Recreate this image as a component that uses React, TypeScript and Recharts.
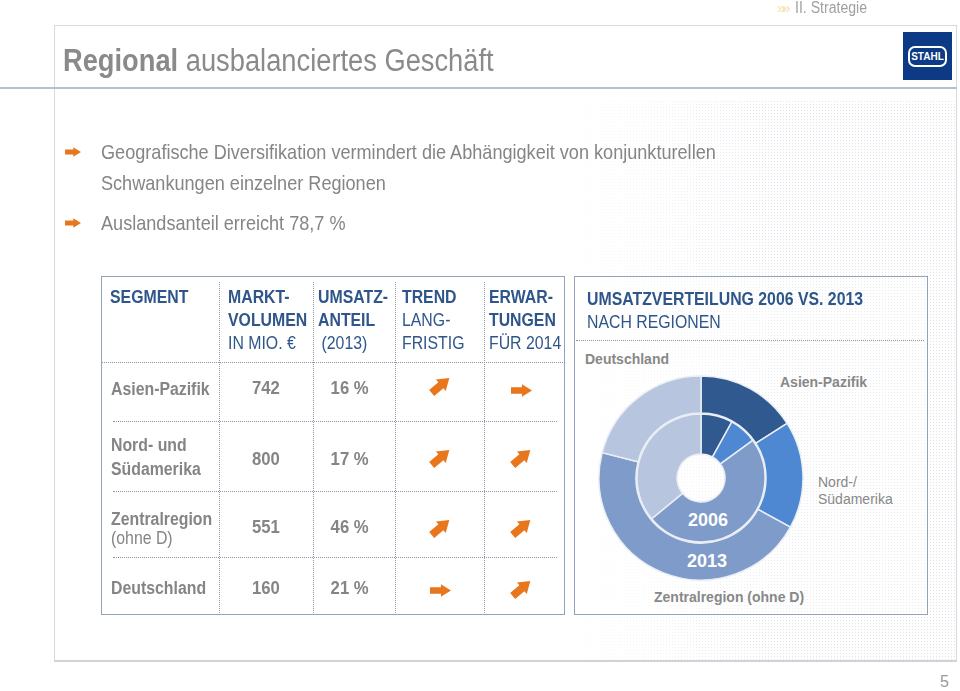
import React from "react";
import { PieChart, Pie, Cell } from "recharts";

// ─── Data ────────────────────────────────────────────────────────────────────

const regions = ["Asien-Pazifik", "Nord-/Südamerika", "Zentralregion (ohne D)", "Deutschland"];
const share2006 = [8, 7, 49, 36];
const share2013 = [16, 17, 46, 21];
const regionColors = ["#305a8f", "#4e88d2", "#7e9bca", "#b7c5df"];

const segmentNames = ["Asien-Pazifik", "Nord- und|Südamerika", "Zentralregion|(ohne D)", "Deutschland"];
const marketVolume = ["742", "800", "551", "160"];
const salesShare = ["16 %", "17 %", "46 %", "21 %"];
const trendLong = ["up", "up", "up", "right"];
const outlook2014 = ["right", "up", "up", "up"];

const bullets = [
  "Geografische Diversifikation vermindert die Abhängigkeit von konjunkturellen|Schwankungen einzelner Regionen",
  "Auslandsanteil erreicht 78,7 %",
];

// ─── Styling ─────────────────────────────────────────────────────────────────

const FONT = "'Liberation Sans', Arial, sans-serif";
const GRAY = "#858585";
const BLUE = "#2f568a";
const ORANGE = "#e8761c";

// condensed look: no narrow font installed, so squeeze horizontally
const narrow = (s: number): React.CSSProperties => ({
  transform: `scaleX(${s})`,
  transformOrigin: "left top",
});

function Arrow({ dir, x, y, w }: { dir: string; x: number; y: number; w?: number }) {
  const up = dir === "up";
  const len = w ?? (up ? 23 : 21);
  const rot = up ? -40 : 0;
  const box = len + 6;
  const sh = len * (up ? 0.17 : 0.15); // half shaft
  const hh = len * (up ? 0.33 : 0.3); // half head
  const neck = len * 0.02;
  return (
    <svg
      width={box}
      height={box}
      style={{ position: "absolute", left: x - box / 2, top: y - box / 2, overflow: "visible" }}
    >
      <g transform={`translate(${box / 2},${box / 2}) rotate(${rot})`}>
        <path
          d={`M${-len / 2},${-sh} L${neck},${-sh} L${neck},${-hh} L${len / 2},0 L${neck},${hh} L${neck},${sh} L${-len / 2},${sh} Z`}
          fill={ORANGE}
        />
      </g>
    </svg>
  );
}

const abs = (l: number, t: number, extra: React.CSSProperties = {}): React.CSSProperties => ({
  position: "absolute",
  left: l,
  top: t,
  whiteSpace: "nowrap",
  ...extra,
});

// table geometry
const colX = [101, 219, 313, 395, 484, 565];
const rowY = [276, 362, 421, 491, 557, 615];
const labelTop = [377, 433, 510, 576];
const valueMid = [389, 460, 528, 589];
const trendMid = [385, 457, 527, 590];
const outlookMid = [390, 457, 527, 588];

const head: React.CSSProperties = {
  fontSize: 18,
  color: BLUE,
  fontWeight: 700,
  lineHeight: "23px",
  ...narrow(0.88),
};

export default function App() {
  const pieData = regions.map((r, i) => ({ name: r, v2006: share2006[i], v2013: share2013[i] }));

  return (
    <div
      style={{
        position: "absolute",
        left: 0,
        top: 0,
        width: 960,
        height: 691,
        background: "#ffffff",
        fontFamily: FONT,
        overflow: "hidden",
      }}
    >
      {/* slide frame */}
      <div
        style={{
          position: "absolute",
          left: 54,
          top: 25,
          width: 903,
          height: 637,
          border: "1px solid #d6d9dd",
          borderBottom: "2px solid #cfd3d8",
          boxSizing: "border-box",
        }}
      />
      {/* dotted texture on the right */}
      <div
        style={{
          position: "absolute",
          left: 560,
          top: 100,
          width: 396,
          height: 560,
          backgroundImage: "radial-gradient(#dfe3e9 0.8px, transparent 0.9px)",
          backgroundSize: "3px 3px",
          WebkitMaskImage: "linear-gradient(to left, #000 45%, transparent 100%)",
          maskImage: "linear-gradient(to left, #000 45%, transparent 100%)",
        }}
      />
      <div style={{ position: "absolute", left: 0, top: 87, width: 957, height: 2, background: "#b3c0cf" }} />

      {/* header */}
      <div style={abs(777, -1, { fontSize: 15, color: "#f1e2a8", letterSpacing: -3 })}>»»</div>
      <div style={abs(795, -1, { fontSize: 16, color: "#a0a0a0", ...narrow(0.88) })}>II. Strategie</div>
      <div style={abs(63, 43, { fontSize: 31, color: "#8a8a8a", ...narrow(0.88) })}>
        <b>Regional</b> ausbalanciertes Geschäft
      </div>
      <div
        style={{
          position: "absolute",
          left: 903,
          top: 32,
          width: 49,
          height: 48,
          background: "#0c3a84",
        }}
      >
        <div
          style={{
            position: "absolute",
            left: 5,
            top: 14,
            width: 35,
            height: 17,
            border: "2px solid #fff",
            borderRadius: 7,
            color: "#fff",
            fontWeight: 700,
            fontSize: 10,
            textAlign: "center",
            lineHeight: "17px",
          }}
        >
          STAHL
        </div>
      </div>

      {/* bullets */}
      {bullets.map((b, i) => {
        const top = i === 0 ? 140 : 211;
        return (
          <React.Fragment key={i}>
            <Arrow dir="right" x={73} y={top + 12} w={16} />
            {b.split("|").map((line, j) => (
              <div key={j} style={abs(101, top + j * 31, { fontSize: 21, color: GRAY, ...narrow(0.862) })}>
                {line}
              </div>
            ))}
          </React.Fragment>
        );
      })}

      {/* table */}
      <div
        style={{
          position: "absolute",
          left: colX[0],
          top: rowY[0],
          width: colX[5] - colX[0],
          height: rowY[5] - rowY[0],
          border: "1.5px solid #93a4b8",
          boxSizing: "border-box",
        }}
      />
      {colX.slice(1, 5).map((x) => (
        <div
          key={x}
          style={{
            position: "absolute",
            left: x,
            top: rowY[0] + 6,
            height: rowY[5] - rowY[0] - 8,
            borderLeft: "1px dotted #8c96a3",
          }}
        />
      ))}
      {rowY.slice(1, 5).map((y, i) => (
        <div
          key={y}
          style={{
            position: "absolute",
            left: i === 0 ? colX[0] + 1 : colX[0] + 12,
            top: y,
            width: colX[5] - colX[0] - (i === 0 ? 3 : 20),
            borderTop: "1px dotted #8c96a3",
          }}
        />
      ))}

      {/* table header */}
      <div style={abs(110, 286, head)}>SEGMENT</div>
      <div style={abs(228, 286, head)}>
        MARKT-
        <br />
        VOLUMEN
        <br />
        <span style={{ fontWeight: 400 }}>IN MIO. €</span>
      </div>
      <div style={abs(318, 286, head)}>
        UMSATZ-
        <br />
        ANTEIL
        <br />
        <span style={{ fontWeight: 400, marginLeft: 4 }}>(2013)</span>
      </div>
      <div style={abs(402, 286, head)}>
        TREND
        <br />
        <span style={{ fontWeight: 400 }}>LANG-</span>
        <br />
        <span style={{ fontWeight: 400 }}>FRISTIG</span>
      </div>
      <div style={abs(489, 286, head)}>
        ERWAR-
        <br />
        TUNGEN
        <br />
        <span style={{ fontWeight: 400 }}>FÜR 2014</span>
      </div>

      {/* table rows */}
      {segmentNames.map((name, i) => {
        const lines = name.split("|");
        return (
          <React.Fragment key={name}>
            <div
              style={abs(111, labelTop[i], {
                fontSize: 18,
                color: GRAY,
                lineHeight: i === 2 ? "19px" : "24px",
                ...narrow(0.88),
              })}
            >
              {lines.map((l, j) => (
                <div key={j} style={{ fontWeight: i === 2 && j === 1 ? 400 : 700 }}>
                  {l}
                </div>
              ))}
            </div>
            <div
              style={abs(226, valueMid[i] - 12, {
                width: 80,
                textAlign: "center",
                fontSize: 19,
                color: GRAY,
                fontWeight: 700,
              })}
            >
              <span style={{ display: "inline-block", transform: "scaleX(0.88)" }}>{marketVolume[i]}</span>
            </div>
            <div
              style={abs(310, valueMid[i] - 12, {
                width: 80,
                textAlign: "center",
                fontSize: 19,
                color: GRAY,
                fontWeight: 700,
              })}
            >
              <span style={{ display: "inline-block", transform: "scaleX(0.88)" }}>{salesShare[i]}</span>
            </div>
            <Arrow dir={trendLong[i]} x={440} y={trendMid[i]} />
            <Arrow dir={outlook2014[i]} x={521} y={outlookMid[i]} />
          </React.Fragment>
        );
      })}

      {/* chart panel */}
      <div
        style={{
          position: "absolute",
          left: 574,
          top: 276,
          width: 354,
          height: 339,
          border: "1.5px solid #93a4b8",
          boxSizing: "border-box",
          background: "rgba(255,255,255,0.35)",
        }}
      />
      <div style={{ position: "absolute", left: 576, top: 340, width: 348, borderTop: "1px dotted #8c96a3" }} />
      <div style={abs(587, 288, { ...head })}>UMSATZVERTEILUNG 2006 VS. 2013</div>
      <div style={abs(587, 311, { ...head, fontWeight: 400 })}>NACH REGIONEN</div>

      <div style={{ position: "absolute", left: 591, top: 368 }}>
        <PieChart width={220} height={220} margin={{ top: 0, right: 0, bottom: 0, left: 0 }}>
          <Pie
            data={pieData}
            dataKey="v2006"
            cx={110}
            cy={110}
            innerRadius={24}
            outerRadius={64}
            startAngle={90}
            endAngle={-270}
            stroke="#e9eef5"
            strokeWidth={1.5}
            isAnimationActive={false}
          >
            {pieData.map((d, i) => (
              <Cell key={d.name} fill={regionColors[i]} />
            ))}
          </Pie>
          <Pie
            data={pieData}
            dataKey="v2013"
            cx={110}
            cy={110}
            innerRadius={65}
            outerRadius={102}
            startAngle={90}
            endAngle={-270}
            stroke="#e9eef5"
            strokeWidth={1.5}
            isAnimationActive={false}
          >
            {pieData.map((d, i) => (
              <Cell key={d.name} fill={regionColors[i]} />
            ))}
          </Pie>
        </PieChart>
      </div>

      {/* pie labels */}
      <div style={abs(585, 351, { fontSize: 14, color: "#888", fontWeight: 700 })}>{regions[3]}</div>
      <div style={abs(780, 374, { fontSize: 14, color: "#888", fontWeight: 700 })}>{regions[0]}</div>
      <div style={abs(818, 474, { fontSize: 14, color: "#888", lineHeight: "17px" })}>
        Nord-/
        <br />
        Südamerika
      </div>
      <div style={abs(654, 589, { fontSize: 14, color: "#888", fontWeight: 700 })}>{regions[2]}</div>
      <div style={abs(688, 510, { fontSize: 18, color: "#fff", fontWeight: 700 })}>2006</div>
      <div style={abs(687, 551, { fontSize: 18, color: "#fff", fontWeight: 700 })}>2013</div>

      <div style={abs(940, 673, { fontSize: 16, color: "#999" })}>5</div>
    </div>
  );
}
